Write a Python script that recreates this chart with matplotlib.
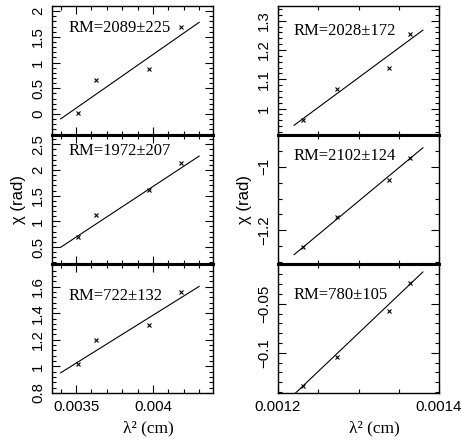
import matplotlib
matplotlib.use("Agg")
import matplotlib.pyplot as plt
from matplotlib.ticker import MultipleLocator, FixedLocator, FuncFormatter

# lambda^2 of the four channels, per band
lam2_low = [0.003511, 0.00363, 0.003974, 0.00418]
lam2_high = [0.001231, 0.001273, 0.0013375, 0.001364]

# polarisation angles (rad), left column then right column, top to bottom
chi_left = [
    [0.025, 0.66, 0.87, 1.70],
    [0.69, 1.12, 1.61, 2.13],
    [1.018, 1.195, 1.313, 1.558],
]
chi_right = [
    [0.96, 1.068, 1.137, 1.256],
    [-1.254, -1.157, -1.041, -0.972],
    [-0.1337, -0.104, -0.0574, -0.0286],
]

# fitted rotation measures and intercepts
rm_left = [2089, 1972, 722]
rm_err_left = [225, 207, 132]
chi0_left = [-7.20, -6.21, -1.503]
rm_right = [2028, 2102, 780]
rm_err_right = [172, 124, 105]
chi0_right = [-1.531, -3.841, -1.094]

fit_range_left = [0.0034, 0.0043]
fit_range_right = [0.00122, 0.00138]

plt.rcParams['font.family'] = ['Liberation Sans', 'DejaVu Sans']
plt.rcParams['font.size'] = 10.8

fig = plt.figure(figsize=(4.62, 4.4), dpi=100)

W, H = 462.0, 440.0
col_x = [52, 278]
col_w = 161
row_top = [6, 135, 264]
row_h = 129

ylims_left = [(-0.41, 2.10), (0.17, 2.68), (0.8, 1.77)]
ylims_right = [(0.91, 1.35), (-1.306, -0.90), (-0.141, -0.0095)]
ymaj_left = [0.5, 0.5, 0.2]
ymin_left = [0.1, 0.1, 0.04]
ymaj_right = [0.1, 0.2, 0.05]
ymin_right = [0.02, 0.05, 0.01]
text_y_left = [0.833, 0.876, 0.753]
text_y_right = [0.806, 0.836, 0.762]

serif = ['Liberation Serif', 'DejaVu Serif']


def fmt(v, pos):
    s = '%g' % round(v, 6)
    return s.replace('-', '\u2212')


def panel(col, row, lam2, chi, rm, err, chi0, xr, ylim, ymaj, ymin, ty):
    ax = fig.add_axes([col_x[col] / W, 1 - (row_top[row] + row_h) / H,
                       col_w / W, row_h / H])
    ax.plot(lam2, chi, 'x', color='black', ms=3.2, mew=0.8)
    ax.plot(xr, [chi0 + rm * x for x in xr], color='black', lw=0.8)
    ax.text(0.10 if col == 0 else 0.095, ty, 'RM=%d\u00b1%d' % (rm, err),
            transform=ax.transAxes, va='center', ha='left',
            family=serif, fontsize=12)
    ax.set_ylim(*ylim)
    ax.yaxis.set_major_locator(MultipleLocator(ymaj))
    ax.yaxis.set_minor_locator(MultipleLocator(ymin))
    ax.yaxis.set_major_formatter(FuncFormatter(fmt))
    if col == 0:
        ax.set_xlim(0.003344, 0.00439)
        ax.xaxis.set_major_locator(FixedLocator([0.0035, 0.004]))
        ax.xaxis.set_minor_locator(MultipleLocator(0.0001))
    else:
        ax.set_xlim(0.0012, 0.0014)
        ax.xaxis.set_major_locator(FixedLocator([0.0012, 0.0014]))
        ax.xaxis.set_minor_locator(MultipleLocator(0.00005))
    ax.xaxis.set_major_formatter(FuncFormatter(fmt))
    ax.tick_params(which='both', direction='in', top=True, right=True,
                   width=0.8, pad=5)
    ax.tick_params(which='major', length=5.5)
    ax.tick_params(which='minor', length=2.8)
    for lab in ax.get_yticklabels():
        lab.set_rotation(90)
        lab.set_va('center')
    for s in ax.spines.values():
        s.set_linewidth(1.0)
    if row > 0:
        ax.spines['top'].set_linewidth(2.2)
    if row < 2:
        ax.spines['bottom'].set_linewidth(2.2)
        ax.tick_params(labelbottom=False)
    else:
        ax.set_xlabel('\u03bb\u00b2 (cm)', family=serif, fontsize=12.5)
        ax.xaxis.set_label_coords(0.6, -0.215)
    if row == 1:
        ax.set_ylabel('\u03c7 (rad)', fontsize=12)
    return ax


for i in range(3):
    panel(0, i, lam2_low, chi_left[i], rm_left[i], rm_err_left[i],
          chi0_left[i], fit_range_left, ylims_left[i], ymaj_left[i],
          ymin_left[i], text_y_left[i])
    panel(1, i, lam2_high, chi_right[i], rm_right[i], rm_err_right[i],
          chi0_right[i], fit_range_right, ylims_right[i], ymaj_right[i],
          ymin_right[i], text_y_right[i])

fig.savefig('out.png', dpi=100)
